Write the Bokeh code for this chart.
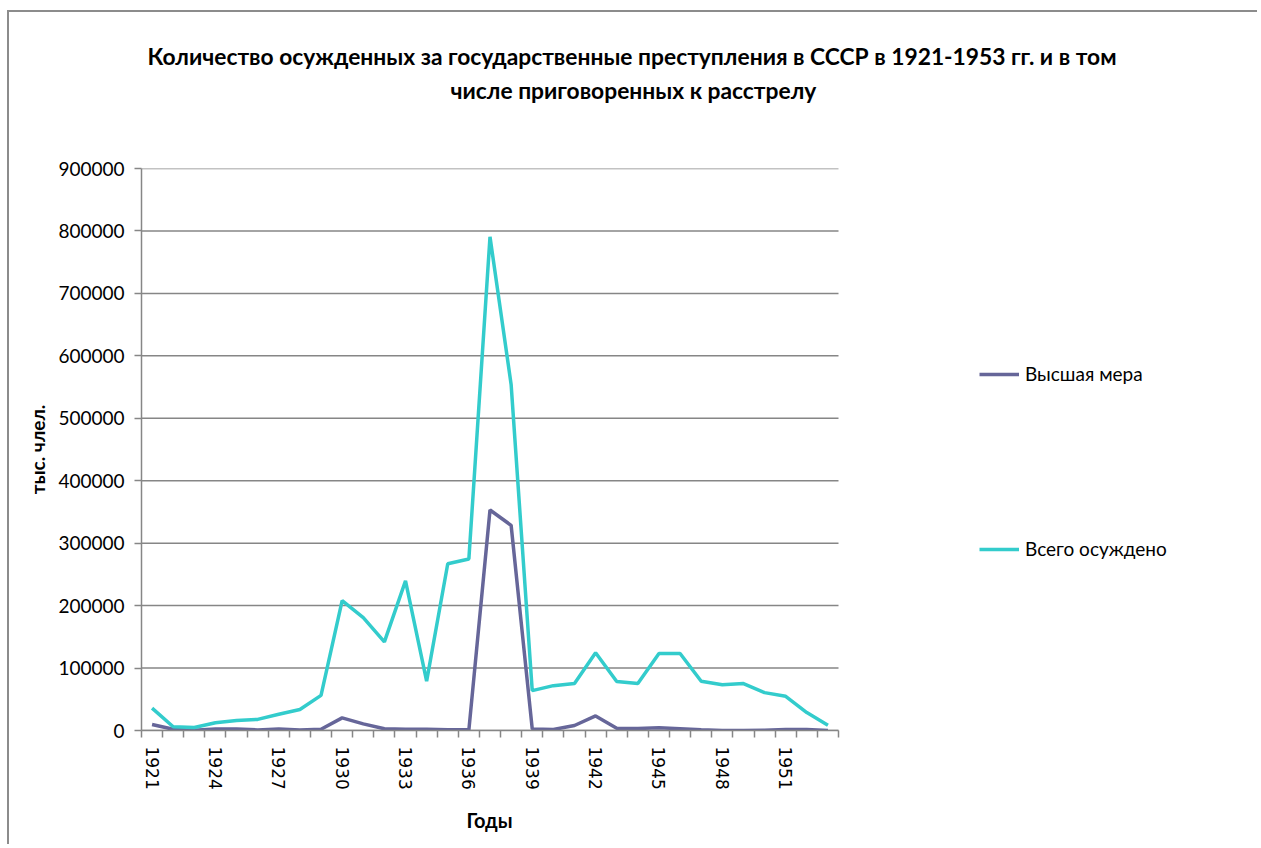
from bokeh.plotting import figure
from bokeh.models import (FixedTicker, Legend, LegendItem, Title, ColumnDataSource,
                          Range1d, BasicTickFormatter)
from bokeh.embed import file_html
from bokeh.resources import INLINE

# ---- data ----
years = [1921, 1922, 1923, 1924, 1925, 1926, 1927, 1928, 1929, 1930, 1931,
         1932, 1933, 1934, 1935, 1936, 1937, 1938, 1939, 1940, 1941, 1942,
         1943, 1944, 1945, 1946, 1947, 1948, 1949, 1950, 1951, 1952, 1953]
executed = [9701, 1962, 414, 2550, 2433, 990, 2363, 869, 2109, 20201, 10651,
            2728, 2154, 2056, 1229, 1118, 353074, 328618, 2552, 1649, 8001, 23278,
            3579, 3029, 4252, 2896, 1105, 0, 0, 475, 1609, 1612, 198]
total = [35829, 6003, 4794, 12425, 15995, 17804, 26036, 33757, 56220, 208069, 180696,
         141919, 239664, 78999, 267076, 274670, 790665, 554258, 63889, 71806, 75411, 124406,
         78441, 75109, 123248, 123294, 78810, 73269, 75125, 60641, 54775, 28800, 8403]
series_names = ["Высшая мера", "Всего осуждено"]
x_tick_labels = [1921, 1924, 1927, 1930, 1933, 1936, 1939, 1942, 1945, 1948, 1951]
y_ticks = [0, 100000, 200000, 300000, 400000, 500000, 600000, 700000, 800000, 900000]
title_lines = ["Количество осужденных за государственные преступления в СССР в 1921-1953 гг. и в том",
               "числе приговоренных к расстрелу"]
x_title = "Годы"
y_title = "тыс. члел."

FONT = "Lato"
GRAY = "#868686"
C_EXEC = "#666699"
C_TOTAL = "#33CCCC"

# layout geometry (pixels): the drawing frame also hosts the legend on its right
FIG_W, FIG_H = 1250, 834
MB_LEFT, MB_RIGHT, MB_TOP, MB_BOTTOM = 132, 10, 156, 116
PLOT_W = 697                      # width of the chart's plotting area
FRAME_W = FIG_W - MB_LEFT - MB_RIGHT
x0 = years[0] - 0.5
x1 = years[-1] + 0.5
x_end = x0 + (x1 - x0) * FRAME_W / PLOT_W

src = ColumnDataSource(dict(year=years, executed=executed, total=total))
grid_src = ColumnDataSource(dict(y=y_ticks, x0=[x0] * len(y_ticks), x1=[x1] * len(y_ticks)))

p = figure(width=FIG_W, height=FIG_H, output_backend="svg", toolbar_location=None,
           x_range=Range1d(x0, x_end), y_range=Range1d(y_ticks[0], y_ticks[-1]),
           min_border_left=MB_LEFT, min_border_right=MB_RIGHT, min_border_top=MB_TOP,
           min_border_bottom=MB_BOTTOM, outline_line_color=None)
p.styles = {"margin-left": "7px", "margin-top": "10px",
            "border-left": "2px solid #8c8c8c", "border-top": "2px solid #8c8c8c"}

# horizontal gridlines limited to the plotting area
p.segment(x0="x0", y0="y", x1="x1", y1="y", source=grid_src, line_color=GRAY, line_width=1.5)

r1 = p.line("year", "executed", source=src, line_color=C_EXEC, line_width=3.5)
r2 = p.line("year", "total", source=src, line_color=C_TOTAL, line_width=3.5)

# x axis
xa = p.xaxis[0]
xa.bounds = (x0, x1)
xa.ticker = FixedTicker(ticks=x_tick_labels, minor_ticks=[y - 0.5 for y in years] + [x1])
xa.major_tick_line_color = None
xa.major_tick_out = 7
xa.major_tick_in = 0
xa.minor_tick_out = 7
xa.minor_tick_in = 0
xa.minor_tick_line_color = GRAY
xa.minor_tick_line_width = 1.5
xa.axis_line_color = GRAY
xa.axis_line_width = 1.5
xa.major_label_orientation = "vertical"
xa.major_label_text_font = "DejaVu Sans"
xa.major_label_text_font_size = "17px"
xa.major_label_text_color = "#000000"
xa.major_label_standoff = 9

# x axis title, centred under the plotting area
p.add_layout(Title(text=x_title, align="left", offset=325, vertical_align="middle",
                   standoff=28, text_font=FONT, text_font_size="20px", text_font_style="bold",
                   text_color="#000000"), "below")

# y axis
ya = p.yaxis[0]
ya.ticker = FixedTicker(ticks=y_ticks)
ya.formatter = BasicTickFormatter(use_scientific=False)
ya.major_tick_out = 7
ya.major_tick_in = 0
ya.major_tick_line_color = GRAY
ya.major_tick_line_width = 1.5
ya.minor_tick_line_color = None
ya.axis_line_color = GRAY
ya.axis_line_width = 1.5
ya.major_label_text_font = FONT
ya.major_label_text_font_size = "19px"
ya.major_label_text_color = "#000000"
ya.major_label_standoff = 10
ya.axis_label = y_title
ya.axis_label_text_font = FONT
ya.axis_label_text_font_size = "19px"
ya.axis_label_text_font_style = "bold"
ya.axis_label_text_color = "#000000"
ya.axis_label_standoff = 6

p.xgrid.visible = False
p.ygrid.visible = False

# legend, inside the frame to the right of the plotting area
legend = Legend(items=[LegendItem(label=series_names[0], renderers=[r1]),
                       LegendItem(label=series_names[1], renderers=[r2])],
                location=(PLOT_W + 141, 170), orientation="vertical", spacing=152,
                padding=0, margin=0, border_line_color=None, background_fill_alpha=0,
                glyph_width=40, glyph_height=20, label_height=20, label_standoff=6,
                label_text_font=FONT, label_text_font_size="19px", label_text_color="#000000")
p.add_layout(legend)

# title: spacer, then second line, then first line (stacked upward from the frame)
p.add_layout(Title(text=" ", text_font_size="1px", standoff=59), "above")
p.add_layout(Title(text=title_lines[1], align="left", offset=309, vertical_align="middle",
                   standoff=4, text_font=FONT, text_font_size="22.8px", text_font_style="bold",
                   text_color="#000000"), "above")
p.add_layout(Title(text=title_lines[0], align="left", offset=6, vertical_align="middle",
                   standoff=4, text_font=FONT, text_font_size="22.8px", text_font_style="bold",
                   text_color="#000000"), "above")

open("out.html", "w").write(file_html(p, INLINE))
